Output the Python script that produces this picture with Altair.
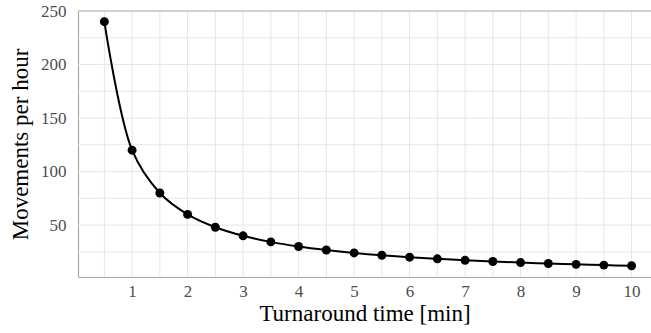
import altair as alt
import pandas as pd

# Turnaround time (min) and resulting movements per hour
turnaround = [0.5, 1.0, 1.5, 2.0, 2.5, 3.0, 3.5, 4.0, 4.5, 5.0,
              5.5, 6.0, 6.5, 7.0, 7.5, 8.0, 8.5, 9.0, 9.5, 10.0]
movements = [240, 120, 80, 60, 48, 40, 34.3, 30, 26.7, 24,
             21.8, 20, 18.5, 17.1, 16, 15, 14.1, 13.3, 12.6, 12]

x_ticks = [1, 2, 3, 4, 5, 6, 7, 8, 9, 10]
x_minor = [0.5, 1.5, 2.5, 3.5, 4.5, 5.5, 6.5, 7.5, 8.5, 9.5]
y_ticks = [50, 100, 150, 200, 250]
y_minor = [25, 75, 125, 175, 225]

df = pd.DataFrame({"t": turnaround, "m": movements})

FONT = "Liberation Serif"
x_scale = alt.Scale(domain=[0.025, 10.35], nice=False, zero=False)
y_scale = alt.Scale(domain=[1.5, 250], nice=False, zero=False)
GRID = "#e6e6e6"

vgrid = alt.Chart(pd.DataFrame({"v": x_ticks + x_minor})).mark_rule(
    color=GRID, strokeWidth=1
).encode(x=alt.X("v:Q", scale=x_scale))

hgrid = alt.Chart(pd.DataFrame({"v": y_ticks + y_minor})).mark_rule(
    color=GRID, strokeWidth=1
).encode(y=alt.Y("v:Q", scale=y_scale))

top_border = alt.Chart(pd.DataFrame({"v": [250]})).mark_rule(
    color="#b0b0b0", strokeWidth=1.2
).encode(y=alt.Y("v:Q", scale=y_scale))

base = alt.Chart(df).encode(
    x=alt.X(
        "t:Q",
        scale=x_scale,
        axis=alt.Axis(
            values=x_ticks,
            format="d",
            title="Turnaround time [min]",
            grid=False,
            ticks=False,
            labelPadding=6,
            titlePadding=3,
            labelFont=FONT,
            titleFont=FONT,
        ),
    ),
    y=alt.Y(
        "m:Q",
        scale=y_scale,
        axis=alt.Axis(
            values=y_ticks,
            format="d",
            title="Movements per hour",
            grid=False,
            ticks=False,
            labelPadding=12,
            titlePadding=8,
            labelFont=FONT,
            titleFont=FONT,
        ),
    ),
)

line = base.mark_line(color="black", strokeWidth=2, interpolate="catmull-rom")
points = base.mark_circle(color="black", opacity=1, size=80)

chart = (
    alt.layer(vgrid, hgrid, top_border, line, points)
    .properties(
        width=573,
        height=266,
        autosize=alt.AutoSizeParams(type="none"),
        padding={"left": 78, "top": 11, "right": 0, "bottom": 56},
    )
    .configure_view(stroke=None)
    .configure_axis(
        domainColor="#a8a8a8",
        domainWidth=1.2,
        labelFont=FONT,
        labelFontSize=17,
        labelColor="#4d4d4d",
        titleFont=FONT,
        titleFontSize=23,
        titleFontWeight="normal",
        titleColor="black",
    )
)

chart.save("out.html", embed_options={"renderer": "svg", "actions": False})
